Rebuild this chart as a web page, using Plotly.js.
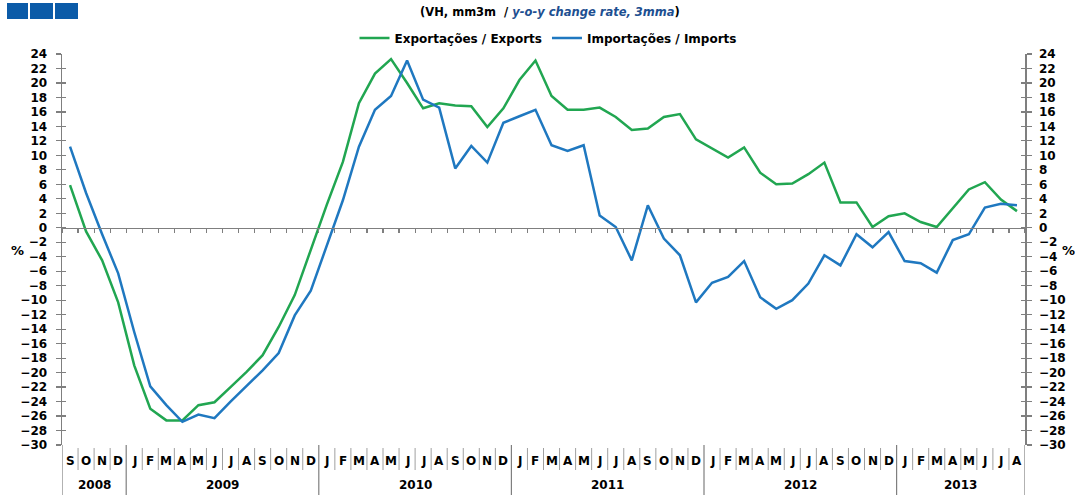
<!DOCTYPE html>
<html>
<head>
<meta charset="utf-8">
<script src="https://cdn.plot.ly/plotly-3.0.1.min.js"></script>
<style>html,body{margin:0;padding:0;background:#fff;}#chart{width:1075px;height:495px;}</style>
</head>
<body>
<div id="chart"></div>
<script>
// Months from Sep 2008 to Aug 2013
const monthLabels = ['S','O','N','D',
  'J','F','M','A','M','J','J','A','S','O','N','D',
  'J','F','M','A','M','J','J','A','S','O','N','D',
  'J','F','M','A','M','J','J','A','S','O','N','D',
  'J','F','M','A','M','J','J','A','S','O','N','D',
  'J','F','M','A','M','J','J','A'];
const yearLabels = ['2008','2009','2010','2011','2012','2013'];
const monthsPerYear = [4,12,12,12,12,8];

const exportsVals = [5.9,-0.5,-4.5,-10.3,
  -19.0,-25.0,-26.6,-26.6,-24.5,-24.1,-22.0,-19.9,-17.6,-13.7,-9.3,-3.0,
  3.2,9.1,17.2,21.3,23.3,20.0,16.5,17.2,16.9,16.8,13.9,16.5,
  20.4,23.1,18.2,16.3,16.3,16.6,15.3,13.5,13.7,15.3,15.7,12.2,
  11.0,9.7,11.1,7.6,6.0,6.1,7.4,9.0,3.5,3.5,0.1,1.6,
  2.0,0.8,0.1,2.7,5.3,6.3,3.9,2.3];
const importsVals = [11.2,4.8,-0.9,-6.3,
  -14.4,-21.9,-24.5,-26.8,-25.8,-26.3,-24.0,-21.8,-19.7,-17.3,-12.1,-8.7,
  -2.3,3.8,11.2,16.3,18.2,23.1,17.7,16.6,8.2,11.3,9.0,14.5,
  15.4,16.3,11.4,10.6,11.4,1.7,0.1,-4.5,3.1,-1.5,-3.8,-10.3,
  -7.6,-6.8,-4.6,-9.6,-11.2,-10.0,-7.7,-3.8,-5.2,-0.9,-2.7,-0.6,
  -4.6,-4.9,-6.2,-1.7,-0.9,2.8,3.3,3.1];

const seriesNames = ['Exportações / Exports','Importações / Imports'];
const seriesColors = ['#21a651','#1f78c0'];

const W = 1075, H = 495;
const M = {l:62, r:50, t:54, b:50};
const PW = W - M.l - M.r, PH = H - M.t - M.b;
const px2x = p => (p - M.l) / PW;
const py2y = p => (H - M.b - p) / PH;

const n = monthLabels.length;
const idx = monthLabels.map((_, i) => i);
const yMin = -30, yMax = 24;

const font = {family:'DejaVu Sans, Liberation Sans, Arial, sans-serif', size:12, color:'#000', weight:700};
const grey = '#7f7f7f';

const traces = [
  {x: idx, y: exportsVals, type:'scatter', mode:'lines', name: seriesNames[0],
   line:{color:seriesColors[0], width:2.5}, xaxis:'x', yaxis:'y'},
  {x: idx, y: importsVals, type:'scatter', mode:'lines', name: seriesNames[1],
   line:{color:seriesColors[1], width:2.5}, xaxis:'x', yaxis:'y'},
  // invisible helpers for overlay axes
  {x:[0], y:[0], type:'scatter', mode:'markers', marker:{opacity:0}, showlegend:false, hoverinfo:'skip', xaxis:'x', yaxis:'y2'},
  {x:[0], y:[0], type:'scatter', mode:'markers', marker:{opacity:0}, showlegend:false, hoverinfo:'skip', xaxis:'x', yaxis:'y3'},
  {x:[0], y:[0], type:'scatter', mode:'markers', marker:{opacity:0}, showlegend:false, hoverinfo:'skip', xaxis:'x', yaxis:'y4'}
];

const boundaries = [];
for (let k = 0; k <= n; k++) boundaries.push(k - 0.5);

const yBase = {range:[yMin, yMax], dtick:2, tick0:0, showgrid:false, zeroline:false,
  showline:true, linecolor:grey, linewidth:1.5, tickcolor:grey, tickwidth:1.2, ticklen:5,
  tickfont:{...font, size:12}, fixedrange:true};

const shapes = [];
const annotations = [];

// year boundaries
const yearStarts = [0];
monthsPerYear.forEach((m, i) => yearStarts.push(yearStarts[i] + m));
const yearSet = new Set(yearStarts);
for (let k = 0; k <= n; k++) {
  if (yearSet.has(k)) {
    shapes.push({type:'line', xref:'x', yref:'paper', x0:k-0.5, x1:k-0.5, y0:0, y1:py2y(495),
      line:{color:grey, width:1.2}});
  } else {
    shapes.push({type:'line', xref:'x', yref:'paper', x0:k-0.5, x1:k-0.5, y0:py2y(448), y1:py2y(470),
      line:{color:'#a0a0a0', width:1}});
  }
}
monthLabels.forEach((m, i) => {
  annotations.push({xref:'x', yref:'paper', x:i, y:py2y(461), text:m, showarrow:false,
    xanchor:'center', yanchor:'middle', font:{...font, size:12}});
});
yearLabels.forEach((yl, i) => {
  const c = (yearStarts[i] + yearStarts[i+1] - 1) / 2;
  annotations.push({xref:'x', yref:'paper', x:c, y:py2y(485), text:yl, showarrow:false,
    xanchor:'center', yanchor:'middle', font:{...font, size:12}});
});
// % labels
annotations.push({xref:'paper', yref:'paper', x:px2x(17), y:py2y(250), text:'%', showarrow:false,
  xanchor:'center', yanchor:'middle', font:{...font, size:13}});
annotations.push({xref:'paper', yref:'paper', x:px2x(1068), y:py2y(250), text:'%', showarrow:false,
  xanchor:'center', yanchor:'middle', font:{...font, size:13}});
// title line
annotations.push({xref:'paper', yref:'paper', x:px2x(550), y:py2y(12), showarrow:false,
  xanchor:'center', yanchor:'middle', font:{...font, size:11.5},
  text:"(VH, mm3m  / <i><span style='color:#1d4f91'>y-o-y change rate, 3mma</span></i>)"});
// three blue squares
[[7,28],[30,53],[55,78]].forEach(([a,b]) => {
  shapes.push({type:'rect', xref:'paper', yref:'paper', x0:px2x(a), x1:px2x(b), y0:py2y(19), y1:py2y(3),
    fillcolor:'#0b5ba8', line:{width:0}});
});

const layout = {
  width:W, height:H, margin:M, paper_bgcolor:'#fff', plot_bgcolor:'#fff',
  font: font,
  showlegend:true,
  legend:{orientation:'h', x:px2x(548), xanchor:'center', y:py2y(38), yanchor:'middle',
    font:{...font, size:12}, bgcolor:'rgba(0,0,0,0)', itemwidth:30, tracegroupgap:0},
  xaxis:{range:[-0.5, n-0.5], anchor:'free', position:(0 - yMin)/(yMax - yMin),
    tickmode:'array', tickvals:boundaries, ticks:'outside', ticklen:4, tickcolor:grey, tickwidth:1.2,
    showticklabels:false, showline:true, linecolor:grey, linewidth:1.5, showgrid:false, zeroline:false, fixedrange:true},
  yaxis:{...yBase, side:'left', ticks:'outside', ticklabelstandoff:6},
  yaxis2:{...yBase, side:'right', overlaying:'y', ticks:'outside', ticklabelstandoff:5},
  yaxis3:{...yBase, side:'left', overlaying:'y', ticks:'inside', showticklabels:false, ticklen:4},
  yaxis4:{...yBase, side:'right', overlaying:'y', ticks:'inside', showticklabels:false, ticklen:4},
  shapes: shapes,
  annotations: annotations
};

Plotly.newPlot('chart', traces, layout, {staticPlot:true, displayModeBar:false});
</script>
</body>
</html>
